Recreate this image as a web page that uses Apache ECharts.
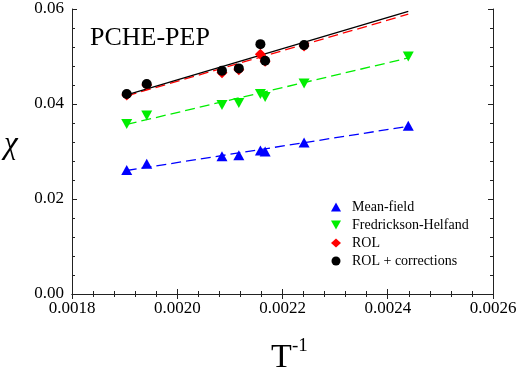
<!DOCTYPE html>
<html>
<head>
<meta charset="utf-8">
<script src="https://cdn.jsdelivr.net/npm/echarts@6/dist/echarts.min.js"></script>
<style>
  html, body { margin: 0; padding: 0; background: #fff; }
  #chart { width: 531px; height: 370px; }
</style>
</head>
<body>
<div id="chart"></div>
<script>
// Inverse temperature (1/T) of each measurement
const invT = [0.001904, 0.001942, 0.002085, 0.002117, 0.002158, 0.002167, 0.002241, 0.002439];

// Flory-Huggins chi from each model
const meanField = [0.0261, 0.0274, 0.0290, 0.0292, 0.0302, 0.0300, 0.0319, 0.0354];
const fredricksonHelfand = [0.0358, 0.0376, 0.0398, 0.0402, 0.0421, 0.0415, 0.0443, 0.0500];
const rol = [0.0419, 0.0440, 0.0466, 0.0472, 0.0505, 0.0490, 0.0522];
const rolCorrections = [0.0421, 0.0442, 0.0470, 0.0475, 0.0526, 0.0491, 0.0524];

// Linear fits: [start, end] in 1/T and chi
const fitX = [0.001904, 0.002439];
const fitMeanField = [0.0260, 0.0353];
const fitFH = [0.0357, 0.0497];
const fitROL = [0.0417, 0.0589];
const fitROLCorr = [0.0419, 0.0595];

const xTicks = { min: 0.0018, max: 0.0026, step: 0.0002 };
const yTicks = { min: 0.00, max: 0.06, step: 0.02 };

const pairs = (xs, ys) => ys.map((y, i) => [xs[i], y]);

const serif = 'Liberation Serif';
const downTri = 'path://M0,0 L10,0 L5,9 Z';

const axisCommon = {
  axisLine: { show: true, lineStyle: { color: '#222', width: 1 } },
  axisTick: { show: true, inside: true, length: 5, lineStyle: { color: '#222' } },
  minorTick: { show: true, splitNumber: 5, length: 3, lineStyle: { color: '#222' } },
  splitLine: { show: false },
  minorSplitLine: { show: false }
};

const chart = echarts.init(document.getElementById('chart'), null, { renderer: 'canvas' });

const fitLine = (name, xs, ys, color) => ({
  name: name,
  type: 'line',
  data: pairs(xs, ys),
  showSymbol: false,
  symbol: 'none',
  lineStyle: { color: color, width: 1.3, type: [10, 5] },
  z: 2,
  silent: true
});

chart.setOption({
  animation: false,
  backgroundColor: '#fff',
  grid: { left: 72, right: 38, top: 9, bottom: 76, containLabel: false },
  legend: {
    orient: 'vertical',
    left: 326,
    top: 195,
    itemWidth: 10,
    itemHeight: 9,
    itemGap: 4,
    textStyle: { fontFamily: serif, fontSize: 14, lineHeight: 12, color: '#000', padding: [0, 0, 0, 6] },
    data: ['Mean-field', 'Fredrickson-Helfand', 'ROL', 'ROL + corrections']
  },
  graphic: [
    { type: 'text', left: 90, top: 25, style: { text: 'PCHE-PEP', fontFamily: serif, fontSize: 26, fill: '#000' } },
    { type: 'text', left: 4, top: 129, style: { text: 'χ', fontFamily: serif, fontStyle: 'italic', fontSize: 31, fill: '#000' } },
    { type: 'text', left: 271, top: 341, style: { text: 'T', fontFamily: serif, fontSize: 34, fill: '#000' } },
    { type: 'text', left: 292, top: 337, style: { text: '-1', fontFamily: serif, fontSize: 19, fill: '#000' } }
  ],
  xAxis: [
    Object.assign({
      type: 'value', position: 'bottom',
      min: xTicks.min, max: xTicks.max, interval: xTicks.step,
      axisLabel: { fontFamily: serif, fontSize: 17, color: '#000', margin: 6,
        formatter: v => v.toFixed(4) }
    }, axisCommon),
    Object.assign({
      type: 'value', position: 'top',
      min: xTicks.min, max: xTicks.max, interval: xTicks.step,
      axisLabel: { show: false }
    }, axisCommon)
  ],
  yAxis: [
    Object.assign({
      type: 'value', position: 'left',
      min: yTicks.min, max: yTicks.max, interval: yTicks.step,
      axisLabel: { fontFamily: serif, fontSize: 17, color: '#000', margin: 8,
        formatter: v => v.toFixed(2) }
    }, axisCommon),
    Object.assign({
      type: 'value', position: 'right',
      min: yTicks.min, max: yTicks.max, interval: yTicks.step,
      axisLabel: { show: false }
    }, axisCommon)
  ],
  series: [
    fitLine('fit-mf', fitX, fitMeanField, '#0000ff'),
    fitLine('fit-fh', fitX, fitFH, '#00ee00'),
    fitLine('fit-rol', fitX, fitROL, '#ff0000'),
    {
      name: 'fit-rolc', type: 'line', data: pairs(fitX, fitROLCorr), symbol: 'none',
      lineStyle: { color: '#000', width: 1.3 }, z: 3, silent: true
    },
    {
      name: 'Mean-field', type: 'scatter', data: pairs(invT, meanField),
      symbol: 'triangle', symbolSize: [11, 10], itemStyle: { color: '#0000ff', opacity: 1 }, z: 5
    },
    {
      name: 'Fredrickson-Helfand', type: 'scatter', data: pairs(invT, fredricksonHelfand),
      symbol: downTri, symbolSize: [11, 10], itemStyle: { color: '#00ee00', opacity: 1 }, z: 5
    },
    {
      name: 'ROL', type: 'scatter', data: pairs(invT, rol),
      symbol: 'diamond', symbolSize: [11, 11], itemStyle: { color: '#ff0000', opacity: 1 }, z: 5
    },
    {
      name: 'ROL + corrections', type: 'scatter', data: pairs(invT, rolCorrections),
      symbol: 'circle', symbolSize: 10, itemStyle: { color: '#000', opacity: 1 }, z: 6
    }
  ]
});
</script>
</body>
</html>
